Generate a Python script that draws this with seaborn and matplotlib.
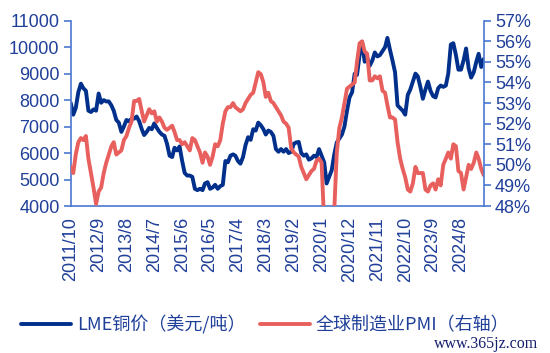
import numpy as np
import matplotlib
matplotlib.use('Agg')
import matplotlib.pyplot as plt
import pandas as pd
import seaborn as sns

# LME铜价（美元/吨），月度，2011/10 - 2025/5
copper = [
    7900, 7450, 7700,
    8300, 8620, 8450, 8350, 7600, 7550, 7650, 7600, 8250, 7900, 8000, 7950,
    7950, 7800, 7600, 7250, 7150, 6800, 7000, 7250, 7200, 7300, 7300, 7380,
    7200, 6900, 6680, 6800, 6950, 6900, 7120, 6950, 6800, 6700, 6650, 6350,
    5900, 5850, 6200, 6100, 6250, 5700, 5250, 5150, 5150, 5100, 4650, 4600,
    4650, 4600, 4850, 4900, 4650, 4700, 4800, 4650, 4750, 4800, 5700, 5650,
    5900, 5950, 5900, 5700, 5600, 5850, 6300, 6600, 6500, 6900, 6850, 7150,
    7050, 6900, 6700, 6850, 6800, 6650, 6150, 6050, 6150, 6050, 6150, 6000,
    6050, 6350, 6400, 6420, 6000, 5900, 5950, 5750, 5800, 5900, 5850, 6150,
    5900, 5650, 4850, 5100, 5350, 5950, 6400, 6550, 6700, 7000, 7600, 8100,
    8300, 9000, 8950, 9700, 10200, 9450, 9600, 9300, 9500, 9800, 9650, 9700,
    9850, 10000, 10350, 9900, 9500, 9050, 7800, 7700, 7600, 7450, 8200, 8400,
    8700, 9000, 8900, 8500, 8050, 8400, 8700, 8350, 8150, 8100, 8450, 8550,
    8500, 8550, 9000, 10100, 10150, 9700, 9150, 9150, 9500, 9950, 9200, 8850,
    9050, 9450, 9750, 9250, 9550,
]

# 全球制造业PMI（%）
pmi = [
    49.9, 49.6, 50.5,
    51.1, 51.3, 51.2, 51.4, 50.3, 49.6, 48.9, 48.1, 48.7, 48.9, 49.6, 50.1,
    50.5, 50.9, 51.1, 50.5, 50.6, 50.7, 51.2, 51.4, 51.8, 52.1, 53.1, 53.1,
    53.2, 52.6, 52.1, 52.4, 52.7, 52.5, 52.6, 52.1, 52.3, 52.1, 51.8, 51.7,
    51.8, 51.9, 51.6, 51.2, 51.2, 51.0, 51.1, 50.9, 50.7, 51.3, 51.2, 50.9,
    50.6, 50.1, 50.6, 50.4, 50.0, 50.4, 51.0, 50.9, 51.2, 52.0, 52.6, 52.8,
    52.8, 53.0, 52.8, 52.7, 52.6, 52.7, 53.0, 53.2, 53.4, 53.5, 54.0, 54.5,
    54.4, 54.0, 53.3, 53.5, 53.1, 53.0, 52.8, 52.6, 52.4, 52.1, 52.0, 51.8,
    50.8, 50.6, 50.5, 50.4, 49.9, 49.6, 49.3, 49.5, 49.7, 49.8, 50.2, 50.3,
    50.1, 47.1, 47.6, 39.6, 42.4, 47.8, 50.6, 51.8, 52.3, 53.0, 53.7, 53.8,
    53.9, 54.0, 55.0, 55.9, 56.0, 55.5, 55.4, 54.1, 54.1, 54.3, 54.2, 54.3,
    53.6, 53.5, 52.9, 52.3, 52.3, 52.2, 51.1, 50.3, 49.8, 49.4, 48.8, 48.7,
    49.1, 49.9, 49.6, 49.6, 49.6, 48.8, 48.7, 49.0, 49.1, 48.8, 49.3, 49.0,
    50.0, 50.3, 50.6, 50.3, 51.0, 50.9, 49.7, 49.6, 48.8, 49.4, 50.0, 49.8,
    50.1, 50.6, 50.3, 49.8, 49.5,
]

dates = pd.date_range('2011-10-01', periods=len(copper), freq='MS')
df = pd.DataFrame({'date': dates, 'copper': copper, 'pmi': pmi})

blue = '#00308C'
red = '#E8605E'
axis_col = '#4A78CF'
text_col = '#1F3F99'

sns.set_style('white')
plt.rcParams['font.family'] = ['Liberation Sans', 'Noto Sans CJK SC', 'DejaVu Sans']

fig = plt.figure(figsize=(5.5, 3.53), dpi=100)
ax = fig.add_axes([0.1285, 0.4164, 0.8715 - 0.1285 + 0.008, 0.9414 - 0.4164])
ax2 = ax.twinx()

sns.lineplot(data=df, x='date', y='copper', ax=ax, color=blue, linewidth=2.8,
             label='LME铜价（美元/吨）', legend=False)
sns.lineplot(data=df, x='date', y='pmi', ax=ax2, color=red, linewidth=2.8,
             label='全球制造业PMI（右轴）', legend=False)

ax.set_xlim(dates[0], dates[-1])
ax.set_ylim(4000, 11000)
ax.set_yticks(range(4000, 11001, 1000))
ax2.set_ylim(48, 57)
ax2.set_yticks(range(48, 58))
ax2.set_yticklabels([f'{v}%' for v in range(48, 58)])

ticks = dates[::11]
ax.set_xticks(ticks)
ax.set_xticklabels([f'{d.year}/{d.month}' for d in ticks], rotation=90)

for a in (ax, ax2):
    a.set_xlabel('')
    a.set_ylabel('')
    a.spines['top'].set_visible(False)
    for s in ('left', 'right', 'bottom'):
        a.spines[s].set_color(axis_col)
        a.spines[s].set_linewidth(1.2)
    a.tick_params(axis='both', colors=axis_col, labelcolor=text_col,
                  labelsize=13, length=5, width=1.2, direction='out', pad=3)
ax.spines['right'].set_visible(False)
ax2.spines['left'].set_visible(False)
ax2.spines['bottom'].set_visible(False)
ax.grid(False)
ax2.grid(False)

handles = ax.get_lines()[:1] + ax2.get_lines()[:1]
labels = ['LME铜价（美元/吨）', '全球制造业PMI（右轴）']
fig.legend(handles, labels, loc='center', bbox_to_anchor=(0.482, 0.08), ncol=2,
           frameon=False, handlelength=2.8, handletextpad=0.3, columnspacing=0.8,
           prop={'family': ['Noto Sans CJK SC', 'DejaVu Sans'], 'size': 13},
           labelcolor=text_col)

fig.text(0.978, 0.004, 'www.365jz.com', ha='right', va='bottom', fontsize=11.5,
         family='Liberation Serif', color='#16206E')

fig.savefig('out.png', dpi=100)
